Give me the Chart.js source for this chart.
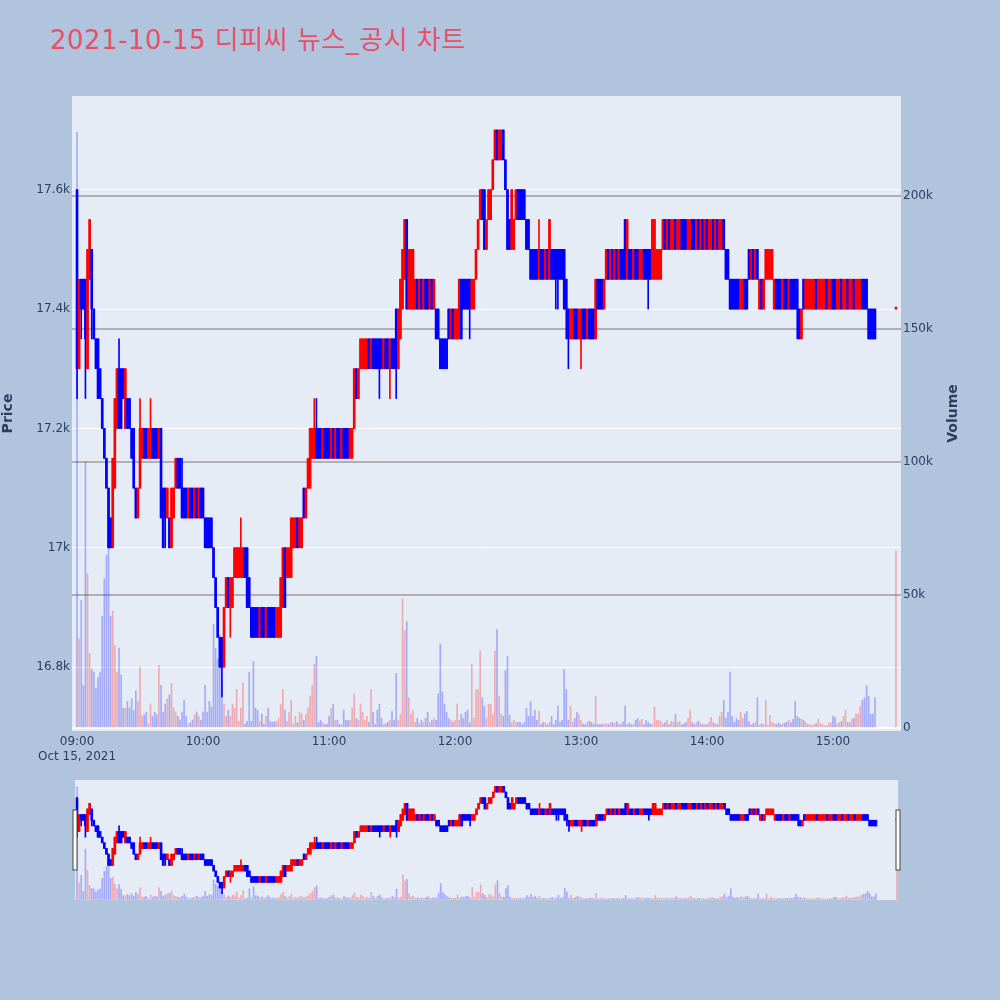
<!DOCTYPE html>
<html>
<head>
<meta charset="utf-8">
<script src="https://cdn.jsdelivr.net/npm/chart.js@4"></script>
<style>
	html, body {
		margin: 0;
		padding: 0;
		background: #b0c4de;
	}
	#wrap {
		position: relative;
		width: 1000px;
		height: 1000px;
	}
	#title {
		position: absolute;
		left: 50px;
		top: 25px;
		font-family: "DejaVu Sans", "Noto Sans CJK KR", sans-serif;
		font-size: 26px;
		line-height: 30px;
		letter-spacing: 0.5px;
		color: #e8506a;
		white-space: nowrap;
	}
	canvas {
		position: absolute;
		left: 0;
		top: 0;
	}
</style>
</head>
<body>
<div id="wrap">
	<div id="title">2021-10-15 디피씨 뉴스_공시 차트</div>
	<canvas id="main" width="1000" height="1000"></canvas>
	<canvas id="slider" width="1000" height="1000"></canvas>
</div>
<script>
// one candle per minute from 09:00 (minute 0) to 15:20, plus the 15:30 closing auction
const minutes = Array.from({length: 381}, (_, i) => i).concat([390]);

const opens = [
	17600,17300,17450,17450,17450,17300,17450,17500,17400,17350, // 09:00
	17350,17300,17250,17200,17150,17100,17050,17000,17100,17200,
	17300,17300,17300,17200,17250,17250,17200,17200,17100,17050,
	17100,17150,17200,17200,17150,17150,17200,17200,17200,17150,
	17200,17100,17100,17050,17050,17000,17050,17100,17150,17150,
	17100,17100,17100,17050,17100,17100,17050,17100,17050,17100,
	17100,17050,17050,17050,17050,17000,16950,16900,16850,16850, // 10:00
	16800,16900,16950,16900,16900,16950,16950,16950,16950,16950,
	17000,17000,16950,16900,16900,16900,16900,16850,16900,16900,
	16850,16900,16900,16900,16900,16850,16850,16850,16900,17000,
	16950,16950,16950,17000,17000,17050,17000,17000,17100,17050,
	17100,17100,17150,17150,17200,17200,17200,17150,17200,17200,
	17200,17150,17200,17150,17200,17200,17150,17200,17200,17200, // 11:00
	17150,17150,17200,17300,17250,17300,17300,17300,17300,17350,
	17300,17350,17350,17350,17350,17350,17300,17350,17350,17300,
	17350,17350,17400,17300,17350,17400,17450,17550,17400,17400,
	17400,17400,17450,17400,17450,17400,17450,17450,17400,17450,
	17400,17400,17400,17350,17350,17350,17350,17400,17350,17400,
	17350,17350,17350,17450,17450,17450,17450,17450,17400,17400, // 12:00
	17450,17500,17550,17600,17600,17500,17550,17550,17600,17650,
	17700,17650,17650,17700,17650,17600,17550,17500,17500,17550,
	17600,17600,17600,17600,17550,17550,17500,17500,17500,17500,
	17450,17500,17500,17450,17500,17450,17500,17500,17500,17500,
	17500,17500,17500,17450,17400,17350,17350,17400,17400,17350,
	17350,17400,17400,17350,17400,17400,17400,17350,17450,17450, // 13:00
	17450,17400,17450,17500,17450,17500,17450,17500,17450,17500,
	17500,17550,17450,17500,17500,17450,17500,17500,17450,17450,
	17500,17500,17500,17500,17450,17450,17450,17450,17450,17500,
	17550,17500,17550,17500,17500,17550,17500,17500,17550,17550,
	17550,17500,17500,17550,17550,17500,17550,17500,17550,17500,
	17550,17500,17500,17550,17500,17550,17500,17500,17550,17500, // 14:00
	17500,17450,17450,17450,17450,17450,17400,17400,17450,17450,
	17500,17450,17500,17450,17500,17400,17450,17400,17450,17450,
	17450,17450,17400,17450,17450,17450,17400,17450,17450,17400,
	17450,17450,17450,17450,17400,17350,17450,17400,17400,17400,
	17400,17400,17450,17400,17400,17400,17400,17450,17400,17400,
	17450,17450,17400,17400,17450,17400,17400,17450,17400,17400, // 15:00
	17450,17400,17400,17400,17450,17450,17450,17400,17400,17400,
	17400, 17400
];

const highs = [
	17600,17450,17450,17450,17450,17500,17550,17500,17400,17350,
	17350,17300,17250,17200,17150,17100,17050,17150,17250,17300,
	17350,17300,17300,17300,17250,17250,17200,17200,17100,17100,
	17250,17200,17200,17200,17200,17250,17200,17200,17200,17200,
	17200,17100,17100,17100,17050,17100,17100,17150,17150,17150,
	17150,17100,17100,17100,17100,17100,17100,17100,17100,17100,
	17100,17050,17050,17050,17050,17000,16950,16900,16850,16850,
	16900,16950,16950,16950,16950,17000,17000,17000,17050,17000,
	17000,17000,16950,16900,16900,16900,16900,16900,16900,16900,
	16900,16900,16900,16900,16900,16900,16900,16950,17000,17000,
	17000,17000,17050,17050,17050,17050,17050,17050,17100,17100,
	17150,17200,17200,17250,17250,17200,17200,17200,17200,17200,
	17200,17200,17200,17200,17200,17200,17200,17200,17200,17200,
	17200,17200,17300,17300,17300,17350,17350,17350,17350,17350,
	17350,17350,17350,17350,17350,17350,17350,17350,17350,17350,
	17350,17350,17400,17400,17450,17500,17550,17550,17500,17500,
	17500,17450,17450,17450,17450,17450,17450,17450,17450,17450,
	17450,17400,17400,17350,17350,17350,17350,17400,17400,17400,
	17400,17400,17450,17450,17450,17450,17450,17450,17450,17450,
	17500,17550,17600,17600,17600,17550,17600,17600,17650,17700,
	17700,17700,17700,17700,17650,17600,17550,17600,17550,17600,
	17600,17600,17600,17600,17550,17550,17500,17500,17500,17500,
	17550,17500,17500,17500,17500,17550,17500,17500,17500,17500,
	17500,17500,17500,17450,17400,17400,17400,17400,17400,17400,
	17400,17400,17400,17400,17400,17400,17400,17450,17450,17450,
	17450,17450,17500,17500,17500,17500,17500,17500,17500,17500,
	17500,17550,17550,17500,17500,17500,17500,17500,17500,17500,
	17500,17500,17500,17500,17550,17550,17500,17500,17500,17550,
	17550,17550,17550,17550,17550,17550,17550,17550,17550,17550,
	17550,17550,17550,17550,17550,17550,17550,17550,17550,17550,
	17550,17550,17550,17550,17550,17550,17550,17550,17550,17500,
	17500,17450,17450,17450,17450,17450,17450,17450,17450,17450,
	17500,17500,17500,17500,17500,17450,17450,17450,17500,17500,
	17500,17500,17450,17450,17450,17450,17450,17450,17450,17450,
	17450,17450,17450,17450,17400,17400,17450,17450,17450,17450,
	17450,17450,17450,17450,17450,17450,17450,17450,17450,17450,
	17450,17450,17450,17450,17450,17450,17450,17450,17450,17450,
	17450,17450,17450,17450,17450,17450,17450,17400,17400,17400,
	17400, 17400
];

const lows = [
	17250,17300,17350,17400,17250,17300,17450,17350,17350,17300,
	17250,17250,17200,17150,17100,17000,17000,17000,17100,17200,
	17200,17200,17250,17200,17200,17200,17150,17100,17050,17050,
	17100,17150,17150,17150,17150,17150,17150,17150,17150,17150,
	17050,17000,17000,17050,17000,17000,17050,17100,17100,17100,
	17050,17050,17050,17050,17050,17050,17050,17050,17050,17050,
	17050,17000,17000,17000,17000,16950,16900,16850,16800,16750,
	16800,16900,16900,16850,16900,16950,16950,16950,16950,16950,
	16950,16900,16900,16850,16850,16850,16850,16850,16850,16850,
	16850,16850,16850,16850,16850,16850,16850,16850,16900,16900,
	16950,16950,16950,17000,17000,17000,17000,17000,17050,17050,
	17100,17100,17150,17150,17150,17150,17150,17150,17150,17150,
	17150,17150,17150,17150,17150,17150,17150,17150,17150,17150,
	17150,17150,17200,17250,17250,17300,17300,17300,17300,17300,
	17300,17300,17300,17300,17250,17300,17300,17300,17300,17250,
	17300,17300,17250,17300,17350,17400,17450,17400,17400,17400,
	17400,17400,17400,17400,17400,17400,17400,17400,17400,17400,
	17400,17350,17350,17300,17300,17300,17300,17350,17350,17350,
	17350,17350,17350,17350,17400,17400,17400,17350,17400,17400,
	17450,17500,17550,17550,17500,17500,17550,17550,17600,17650,
	17650,17650,17650,17650,17600,17500,17500,17500,17500,17550,
	17550,17550,17550,17550,17500,17500,17450,17450,17450,17450,
	17450,17450,17450,17450,17450,17450,17450,17450,17400,17400,
	17450,17450,17400,17350,17300,17350,17350,17350,17350,17350,
	17300,17350,17350,17350,17350,17350,17350,17350,17400,17400,
	17400,17400,17450,17450,17450,17450,17450,17450,17450,17450,
	17450,17450,17450,17450,17450,17450,17450,17450,17450,17450,
	17450,17450,17400,17450,17450,17450,17450,17450,17450,17500,
	17500,17500,17500,17500,17500,17500,17500,17500,17500,17500,
	17500,17500,17500,17500,17500,17500,17500,17500,17500,17500,
	17500,17500,17500,17500,17500,17500,17500,17500,17500,17450,
	17450,17400,17400,17400,17400,17400,17400,17400,17400,17400,
	17450,17450,17450,17450,17450,17400,17400,17400,17450,17450,
	17450,17450,17400,17400,17400,17400,17400,17400,17400,17400,
	17400,17400,17400,17350,17350,17350,17400,17400,17400,17400,
	17400,17400,17400,17400,17400,17400,17400,17400,17400,17400,
	17400,17400,17400,17400,17400,17400,17400,17400,17400,17400,
	17400,17400,17400,17400,17400,17400,17400,17350,17350,17350,
	17350, 17400
];

const closes = [
	17300,17450,17400,17400,17350,17500,17550,17400,17350,17300,
	17250,17250,17200,17150,17100,17000,17000,17150,17250,17300,
	17200,17200,17250,17300,17200,17200,17150,17100,17050,17100,
	17200,17200,17150,17150,17200,17200,17150,17150,17150,17200,
	17050,17000,17050,17100,17000,17100,17100,17150,17100,17100,
	17050,17050,17050,17100,17050,17050,17100,17050,17100,17050,
	17050,17000,17000,17000,17000,16950,16900,16850,16800,16800,
	16900,16950,16900,16950,16950,17000,17000,17000,17000,17000,
	16950,16900,16900,16850,16850,16850,16850,16900,16850,16850,
	16900,16850,16850,16850,16850,16900,16900,16950,17000,16900,
	17000,17000,17050,17050,17050,17000,17050,17050,17050,17100,
	17150,17200,17200,17200,17150,17150,17150,17200,17150,17150,
	17150,17200,17150,17200,17150,17150,17200,17150,17150,17150,
	17200,17200,17300,17250,17300,17350,17350,17350,17350,17300,
	17350,17300,17300,17300,17300,17300,17350,17300,17300,17350,
	17300,17300,17300,17400,17450,17500,17550,17400,17500,17500,
	17500,17450,17400,17450,17400,17450,17400,17400,17450,17400,
	17450,17350,17350,17300,17300,17300,17300,17350,17400,17350,
	17400,17400,17450,17350,17400,17400,17400,17400,17450,17450,
	17500,17550,17600,17550,17500,17550,17600,17600,17650,17700,
	17650,17700,17700,17650,17600,17500,17500,17600,17550,17600,
	17550,17550,17550,17550,17500,17500,17450,17450,17450,17450,
	17500,17450,17450,17500,17450,17550,17450,17450,17450,17450,
	17450,17450,17400,17400,17350,17400,17400,17350,17350,17400,
	17400,17350,17350,17400,17350,17350,17350,17450,17400,17400,
	17400,17450,17500,17450,17500,17450,17500,17450,17500,17450,
	17450,17450,17550,17450,17450,17500,17450,17450,17500,17500,
	17450,17450,17450,17450,17550,17550,17500,17500,17500,17550,
	17500,17550,17500,17550,17550,17500,17550,17550,17500,17500,
	17500,17550,17550,17500,17500,17550,17500,17550,17500,17550,
	17500,17550,17550,17500,17550,17500,17550,17550,17500,17450,
	17450,17400,17400,17400,17400,17400,17450,17450,17400,17400,
	17450,17500,17450,17500,17450,17450,17400,17450,17500,17500,
	17500,17500,17450,17400,17400,17400,17450,17400,17400,17450,
	17400,17400,17400,17400,17350,17400,17400,17450,17450,17450,
	17450,17450,17400,17450,17450,17450,17450,17400,17450,17450,
	17400,17400,17450,17450,17400,17450,17450,17400,17450,17450,
	17400,17450,17450,17450,17400,17400,17400,17350,17350,17350,
	17350, 17400
];

const volumes = [
	224000,33600,48000,16000,100000,58000,28000,22000,21000,15000,
	19000,21000,42000,56000,65000,72000,42000,44000,31000,21000,
	30000,20000,7500,7500,10000,7500,11000,6500,14000,10000,
	23000,4400,5000,6000,1500,9000,4400,6000,5000,23600,
	16000,6000,9000,11000,12500,16700,7500,6000,4400,3000,
	6000,10500,4400,1500,2000,3000,5000,6000,4400,3000,
	6000,16000,6000,10000,8000,39000,30000,26000,35000,19000,
	9000,4400,6700,4400,9000,7500,14400,2500,7500,17000,
	1500,2500,21000,2500,25000,7500,6700,2500,5200,1500,
	4400,7500,2500,2100,2500,2500,3600,9000,14400,6700,
	2500,5900,10500,1500,4400,2000,5900,5200,2900,5200,
	7500,12000,16000,24000,27000,2000,2900,2000,1300,1500,
	4400,7500,9000,2900,3000,1300,1300,6700,2900,2900,
	2900,7500,12800,3600,2900,9000,5900,2900,4400,2100,
	14400,5900,1300,6700,9000,3600,1300,1500,2100,2900,
	6300,2900,20500,2900,5200,48500,36600,40000,11300,5200,
	6700,2100,3600,1800,2900,2100,3600,5900,2100,2900,
	3600,2900,12800,31600,13600,9000,5900,3600,2900,2100,
	2900,9000,2900,5200,3600,5900,6700,2100,24000,3600,
	14400,14400,29000,11300,8200,3600,9000,9000,5200,29000,
	37000,12000,5200,4400,21600,27000,4800,2100,2900,2100,
	2100,2100,1300,2100,7500,4400,10000,4400,6700,2900,
	6300,1300,2100,2100,1300,2100,4400,1300,2900,8200,
	2100,2900,22000,14400,2900,8200,2100,3600,5900,5200,
	2900,1500,1300,2100,2500,2100,1500,12000,1300,1300,
	1500,1300,1600,1300,2100,2100,1600,2400,1600,1300,
	2300,8200,1300,1900,1300,1300,2900,3600,2500,3300,
	1300,2900,2100,1600,1300,7900,2900,2900,2500,1600,
	2100,2900,1300,2500,2100,5200,2100,2500,1300,1600,
	2100,3600,6700,2100,1300,2100,2500,1600,1300,1300,
	1300,2100,4000,2100,1600,1300,4400,5900,10500,3600,
	5900,21000,4400,2100,3600,2900,5900,3600,5200,6300,
	2400,1300,1600,2100,11300,1000,1600,1300,10500,1300,
	4800,2100,1600,1300,1900,1300,1600,1900,2100,2900,
	1900,3300,10000,4400,3600,3300,2900,2100,1300,1300,
	1000,1300,1600,3300,1600,1300,800,800,1900,1900,
	4400,4000,1600,2100,2500,4400,6700,2100,2100,3300,
	3600,5200,5200,8200,10500,11300,16000,12000,5200,5200,
	11300, 66500
];

const priceTicks = [16800, 17000, 17200, 17400, 17600];
const priceTickLabels = ['16.8k', '17k', '17.2k', '17.4k', '17.6k'];
const volumeTicks = [0, 50000, 100000, 150000, 200000];
const volumeTickLabels = ['0', '50k', '100k', '150k', '200k'];
const timeTicks = [0, 60, 120, 180, 240, 300, 360];
const timeTickLabels = [['09:00', 'Oct 15, 2021'], '10:00', '11:00', '12:00', '13:00', '14:00', '15:00'];

const FONT = '"DejaVu Sans", verdana, arial, sans-serif';
Chart.defaults.font.family = FONT;
Chart.defaults.font.size = 12;
Chart.defaults.color = '#2a3f5f';

const isUp = closes.map((c, i) => c >= opens[i]);
const candleColors = isUp.map(u => u ? '#ff0000' : '#0000ff');
const volumeColors = isUp.map(u => u ? 'rgba(255,0,0,0.28)' : 'rgba(0,0,255,0.28)');

function buildDatasets() {
	return [
		{
			label: 'Volume',
			yAxisID: 'y1',
			data: minutes.map((m, i) => ({x: m, y: volumes[i]})),
			backgroundColor: volumeColors,
			barThickness: 1,
			grouped: false,
			order: 3
		},
		{
			label: 'Wick',
			yAxisID: 'y',
			data: minutes.map((m, i) => ({x: m, y: [lows[i], highs[i]]})),
			backgroundColor: candleColors,
			barThickness: 1,
			grouped: false,
			order: 2
		},
		{
			label: 'Body',
			yAxisID: 'y',
			data: minutes.map((m, i) => ({x: m, y: [Math.min(opens[i], closes[i]), Math.max(opens[i], closes[i])]})),
			backgroundColor: candleColors,
			barThickness: 2,
			minBarLength: 2,
			grouped: false,
			order: 1
		}
	];
}

const plotBg = {
	id: 'plotBg',
	beforeDraw(chart) {
		const {ctx, chartArea: a} = chart;
		ctx.save();
		ctx.fillStyle = '#e5ecf6';
		ctx.fillRect(a.left, a.top, a.right - a.left, a.bottom - a.top);
		ctx.restore();
	}
};

// right axis title reads bottom-to-top like the left one
const volumeTitle = {
	id: 'volumeTitle',
	afterDraw(chart) {
		const {ctx, chartArea: a} = chart;
		ctx.save();
		ctx.translate(a.right + 52, (a.top + a.bottom) / 2);
		ctx.rotate(-Math.PI / 2);
		ctx.font = 'bold 14px ' + FONT;
		ctx.fillStyle = '#2a3f5f';
		ctx.textAlign = 'center';
		ctx.textBaseline = 'middle';
		ctx.fillText('Volume', 0, 0);
		ctx.restore();
	}
};

new Chart(document.getElementById('main'), {
	type: 'bar',
	data: {datasets: buildDatasets()},
	options: {
		responsive: false,
		animation: false,
		layout: {padding: {top: 96, left: 0, right: 0, bottom: 0}},
		plugins: {legend: {display: false}, tooltip: {enabled: false}},
		scales: {
			x: {
				type: 'linear',
				offset: false,
				min: -2.4,
				max: 392.4,
				grid: {display: false, drawTicks: false},
				border: {display: false},
				afterBuildTicks: s => { s.ticks = timeTicks.map(v => ({value: v})); },
				afterFit: s => { s.height = 269; },
				ticks: {
					autoSkip: false,
					maxRotation: 0,
					padding: 4,
					callback: (v, i) => timeTickLabels[i]
				}
			},
			y: {
				position: 'left',
				min: 16693,
				max: 17757,
				grid: {color: '#ffffff', lineWidth: 1, drawTicks: false},
				border: {display: false},
				afterBuildTicks: s => { s.ticks = priceTicks.map(v => ({value: v})); },
				afterFit: s => { s.width = 72; },
				ticks: {padding: 2, callback: (v, i) => priceTickLabels[i]},
				title: {display: true, text: 'Price', padding: 0, font: {size: 14, weight: 'bold'}}
			},
			y1: {
				position: 'right',
				min: -1128,
				max: 237594,
				grid: {
					color: c => c.tick && c.tick.value === 0 ? '#ffffff' : '#b0b0b0',
					lineWidth: 2,
					drawTicks: false
				},
				border: {display: false},
				afterBuildTicks: s => { s.ticks = volumeTicks.map(v => ({value: v})); },
				afterFit: s => { s.width = 99; },
				ticks: {padding: 2, callback: (v, i) => volumeTickLabels[i]}
			}
		}
	},
	plugins: [plotBg, volumeTitle]
});

// range slider: same traces over the full range, with the two grab handles
const sliderHandles = {
	id: 'sliderHandles',
	afterDraw(chart) {
		const {ctx, chartArea: a} = chart;
		const h = (a.bottom - a.top) / 2;
		const y0 = a.top + h / 2;
		ctx.save();
		ctx.fillStyle = '#ffffff';
		ctx.strokeStyle = '#444444';
		ctx.lineWidth = 1;
		[a.left, a.right].forEach(x => {
			ctx.fillRect(x - 2, y0, 4, h);
			ctx.strokeRect(x - 2, y0, 4, h);
		});
		ctx.restore();
	}
};

new Chart(document.getElementById('slider'), {
	type: 'bar',
	data: {datasets: buildDatasets()},
	options: {
		responsive: false,
		animation: false,
		layout: {padding: {top: 780, left: 75, right: 102, bottom: 100}},
		plugins: {legend: {display: false}, tooltip: {enabled: false}},
		scales: {
			x: {type: 'linear', offset: false, min: -0.95, max: 390.5, display: false},
			y: {min: 16693, max: 17757, display: false},
			y1: {min: -1128, max: 237594, display: false}
		}
	},
	plugins: [plotBg, sliderHandles]
});
</script>
</body>
</html>
